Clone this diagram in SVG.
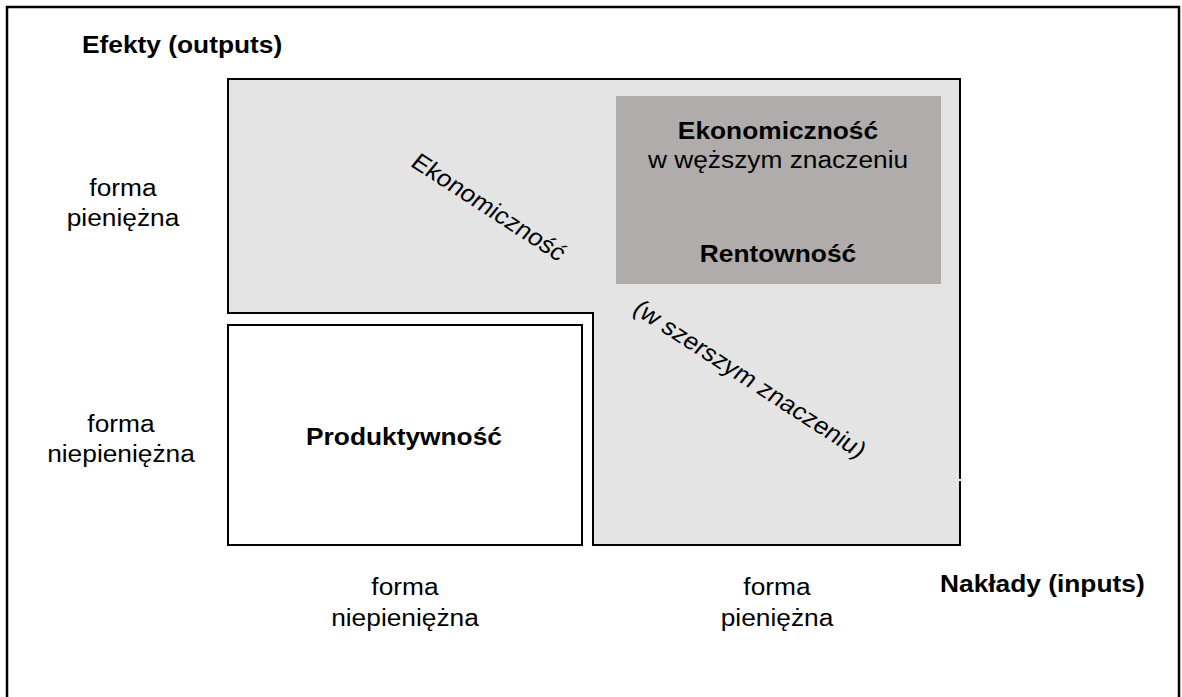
<svg xmlns="http://www.w3.org/2000/svg" width="1182" height="697" viewBox="0 0 1182 697">
  <style>
    text { font-family: "Liberation Sans", Arial, sans-serif; fill: #000; font-size: 23.5px; }
    .b { font-weight: bold; }
    .c { text-anchor: middle; }
    .edge { stroke: #000; stroke-width: 2; }
  </style>

  <!-- outer frame, open at the bottom of the page -->
  <path d="M7,700 V7 H1179 V700" fill="none" stroke="#000" stroke-width="2.5"/>

  <!-- axis titles -->
  <g id="axis-outputs">
    <text class="b" transform="matrix(1.12,0,0,1,82,53)">Efekty (outputs)</text>
  </g>
  <g id="axis-inputs">
    <text class="b" transform="matrix(1.12,0,0,1,940,592)">Nakłady (inputs)</text>
  </g>

  <!-- row labels -->
  <g id="row-monetary">
    <text class="c" transform="matrix(1.12,0,0,1,123,196)">forma</text>
    <text class="c" transform="matrix(1.12,0,0,1,123,226)">pieniężna</text>
  </g>
  <g id="row-nonmonetary">
    <text class="c" transform="matrix(1.12,0,0,1,121,432)">forma</text>
    <text class="c" transform="matrix(1.12,0,0,1,121,462)">niepieniężna</text>
  </g>

  <!-- column labels -->
  <g id="col-nonmonetary">
    <text class="c" transform="matrix(1.12,0,0,1,405,595)">forma</text>
    <text class="c" transform="matrix(1.12,0,0,1,405,626)">niepieniężna</text>
  </g>
  <g id="col-monetary">
    <text class="c" transform="matrix(1.12,0,0,1,777,595)">forma</text>
    <text class="c" transform="matrix(1.12,0,0,1,777,626)">pieniężna</text>
  </g>

  <!-- economy in the broad sense: L-shaped region -->
  <g id="economy-broad">
    <path d="M228,79 H960 V545 H593 V313 H228 Z" fill="#e4e4e4" class="edge"/>
    <rect x="957" y="479" width="5" height="2" fill="#fff"/>
    <text transform="translate(489,207) scale(1.12,1) rotate(36)" class="c" dy="8">Ekonomiczność</text>
    <text transform="translate(750,379) scale(1.12,1) rotate(36)" class="c" dy="8">(w szerszym znaczeniu)</text>
  </g>

  <!-- economy in the narrow sense / profitability -->
  <g id="economy-narrow">
    <rect x="616" y="96" width="325" height="188" fill="#b0acab"/>
    <text class="b c" transform="matrix(1.12,0,0,1,778,139)">Ekonomiczność</text>
    <text class="c" transform="matrix(1.12,0,0,1,778,168)">w węższym znaczeniu</text>
    <text class="b c" transform="matrix(1.12,0,0,1,778,262)">Rentowność</text>
  </g>

  <!-- productivity -->
  <g id="productivity">
    <rect x="228" y="325" width="354" height="220" fill="#fff" class="edge"/>
    <text class="b c" transform="matrix(1.12,0,0,1,404,445)">Produktywność</text>
  </g>
</svg>
